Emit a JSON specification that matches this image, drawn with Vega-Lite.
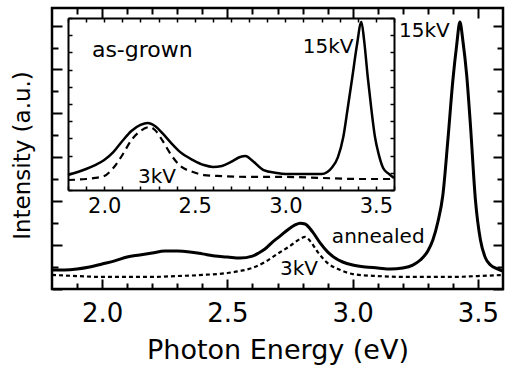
{
  "$schema": "https://vega.github.io/schema/vega-lite/v6.json",
  "width": 451,
  "height": 281,
  "autosize": {"type": "none"},
  "padding": {"left": 52, "top": 8, "right": 9, "bottom": 86},
  "background": "white",
  "config": {
    "font": "DejaVu Sans",
    "view": {"stroke": "black", "strokeWidth": 2.5},
    "axis": {
      "grid": false,
      "domain": false,
      "tickColor": "black",
      "labelColor": "black",
      "titleColor": "black",
      "titleFontWeight": "normal",
      "labelOverlap": false,
      "labelFlush": false,
      "labelBound": false
    },
    "text": {"font": "DejaVu Sans", "color": "black"}
  },
  "datasets": {
    "annealed15": [
      {"e": 1.80, "v": 0.87}, {"e": 1.85, "v": 0.87}, {"e": 1.90, "v": 0.91}, {"e": 1.95, "v": 1.00},
      {"e": 2.00, "v": 1.14}, {"e": 2.05, "v": 1.28}, {"e": 2.10, "v": 1.46}, {"e": 2.15, "v": 1.55},
      {"e": 2.20, "v": 1.64}, {"e": 2.25, "v": 1.73}, {"e": 2.30, "v": 1.73}, {"e": 2.35, "v": 1.69},
      {"e": 2.40, "v": 1.60}, {"e": 2.45, "v": 1.50}, {"e": 2.50, "v": 1.46}, {"e": 2.55, "v": 1.41},
      {"e": 2.60, "v": 1.50}, {"e": 2.625, "v": 1.64}, {"e": 2.65, "v": 1.82}, {"e": 2.68, "v": 2.14},
      {"e": 2.71, "v": 2.41}, {"e": 2.74, "v": 2.69}, {"e": 2.77, "v": 2.92}, {"e": 2.79, "v": 3.00},
      {"e": 2.81, "v": 2.96}, {"e": 2.84, "v": 2.60}, {"e": 2.87, "v": 2.10}, {"e": 2.90, "v": 1.69},
      {"e": 2.93, "v": 1.41}, {"e": 2.96, "v": 1.23}, {"e": 3.00, "v": 1.09}, {"e": 3.05, "v": 1.00},
      {"e": 3.10, "v": 0.96}, {"e": 3.15, "v": 0.91}, {"e": 3.20, "v": 0.96}, {"e": 3.24, "v": 1.09},
      {"e": 3.27, "v": 1.32}, {"e": 3.30, "v": 1.73}, {"e": 3.32, "v": 2.23}, {"e": 3.34, "v": 3.05},
      {"e": 3.36, "v": 4.28}, {"e": 3.38, "v": 6.79}, {"e": 3.40, "v": 9.52}, {"e": 3.415, "v": 11.1},
      {"e": 3.428, "v": 12.16}, {"e": 3.44, "v": 11.3}, {"e": 3.455, "v": 9.75}, {"e": 3.47, "v": 7.47},
      {"e": 3.49, "v": 4.05}, {"e": 3.51, "v": 2.23}, {"e": 3.53, "v": 1.41}, {"e": 3.55, "v": 1.09},
      {"e": 3.58, "v": 0.91}, {"e": 3.60, "v": 0.82}
    ],
    "annealed3": [
      {"e": 1.80, "v": 0.64}, {"e": 1.90, "v": 0.59}, {"e": 2.00, "v": 0.55}, {"e": 2.10, "v": 0.55},
      {"e": 2.20, "v": 0.55}, {"e": 2.30, "v": 0.59}, {"e": 2.40, "v": 0.64}, {"e": 2.50, "v": 0.73},
      {"e": 2.55, "v": 0.82}, {"e": 2.60, "v": 0.96}, {"e": 2.65, "v": 1.23}, {"e": 2.70, "v": 1.60},
      {"e": 2.75, "v": 1.96}, {"e": 2.79, "v": 2.28}, {"e": 2.81, "v": 2.37}, {"e": 2.83, "v": 2.19},
      {"e": 2.86, "v": 1.69}, {"e": 2.90, "v": 1.18}, {"e": 2.95, "v": 0.87}, {"e": 3.00, "v": 0.68},
      {"e": 3.10, "v": 0.59}, {"e": 3.20, "v": 0.55}, {"e": 3.30, "v": 0.55}, {"e": 3.40, "v": 0.55},
      {"e": 3.50, "v": 0.59}, {"e": 3.60, "v": 0.64}
    ],
    "grown15": [
      {"e": 1.80, "v": 0.87}, {"e": 1.90, "v": 1.22}, {"e": 1.95, "v": 1.45}, {"e": 2.00, "v": 1.74},
      {"e": 2.05, "v": 2.20}, {"e": 2.10, "v": 2.85}, {"e": 2.15, "v": 3.43}, {"e": 2.20, "v": 3.78},
      {"e": 2.24, "v": 3.90}, {"e": 2.28, "v": 3.72}, {"e": 2.33, "v": 3.20}, {"e": 2.37, "v": 2.73},
      {"e": 2.42, "v": 2.20}, {"e": 2.49, "v": 1.74}, {"e": 2.55, "v": 1.45}, {"e": 2.60, "v": 1.34},
      {"e": 2.65, "v": 1.40}, {"e": 2.70, "v": 1.63}, {"e": 2.75, "v": 1.92}, {"e": 2.78, "v": 1.98},
      {"e": 2.82, "v": 1.69}, {"e": 2.88, "v": 1.16}, {"e": 2.95, "v": 0.99}, {"e": 3.00, "v": 0.93},
      {"e": 3.10, "v": 0.93}, {"e": 3.20, "v": 0.93}, {"e": 3.26, "v": 1.34}, {"e": 3.29, "v": 1.90},
      {"e": 3.32, "v": 3.08}, {"e": 3.345, "v": 4.80}, {"e": 3.37, "v": 6.57}, {"e": 3.395, "v": 8.40},
      {"e": 3.42, "v": 9.77}, {"e": 3.435, "v": 8.70}, {"e": 3.455, "v": 6.57}, {"e": 3.475, "v": 4.70},
      {"e": 3.495, "v": 3.08}, {"e": 3.515, "v": 2.10}, {"e": 3.54, "v": 1.28}, {"e": 3.57, "v": 0.95},
      {"e": 3.60, "v": 0.70}
    ],
    "grown3": [
      {"e": 1.80, "v": 0.58}, {"e": 1.90, "v": 0.64}, {"e": 1.95, "v": 0.70}, {"e": 2.00, "v": 0.81},
      {"e": 2.05, "v": 1.28}, {"e": 2.10, "v": 2.03}, {"e": 2.15, "v": 2.90}, {"e": 2.20, "v": 3.43},
      {"e": 2.25, "v": 3.66}, {"e": 2.28, "v": 3.49}, {"e": 2.32, "v": 2.90}, {"e": 2.37, "v": 2.03},
      {"e": 2.42, "v": 1.40}, {"e": 2.49, "v": 1.05}, {"e": 2.55, "v": 0.87}, {"e": 2.65, "v": 0.81},
      {"e": 2.80, "v": 0.76}, {"e": 3.00, "v": 0.76}, {"e": 3.20, "v": 0.70}, {"e": 3.40, "v": 0.64},
      {"e": 3.60, "v": 0.64}
    ],
    "mainLabels": [
      {"e": 3.185, "v": 11.48, "t": "15kV"},
      {"e": 2.917, "v": 2.10, "t": "annealed"},
      {"e": 2.71, "v": 0.64, "t": "3kV"}
    ],
    "insetLabels": [
      {"e": 1.932, "v": 7.73, "t": "as-grown", "s": 22},
      {"e": 3.096, "v": 7.97, "t": "15kV", "s": 20},
      {"e": 2.186, "v": 0.41, "t": "3kV", "s": 20}
    ]
  },
  "resolve": {"scale": {"x": "independent", "y": "independent"}},
  "layer": [
    {
      "data": {"name": "annealed15"},
      "mark": {"type": "line", "color": "black", "strokeWidth": 3, "interpolate": "monotone"},
      "encoding": {
        "x": {
          "field": "e", "type": "quantitative",
          "scale": {"domain": [1.8, 3.6], "nice": false, "zero": false},
          "axis": {
            "orient": "bottom",
            "values": [2.0, 2.5, 3.0, 3.5],
            "format": ".1f",
            "tickSize": -10,
            "tickWidth": 2,
            "labelFontSize": 26,
            "labelPadding": 21,
            "title": "Photon Energy (eV)",
            "titleFontSize": 27,
            "titlePadding": 11
          }
        },
        "y": {
          "field": "v", "type": "quantitative",
          "scale": {"domain": [0, 12.8], "nice": false, "zero": false},
          "axis": {
            "orient": "left",
            "values": [0, 2, 4, 6, 8, 10, 12],
            "tickSize": -10,
            "tickWidth": 2,
            "labels": false,
            "title": "Intensity (a.u.)",
            "titleFontSize": 23,
            "titlePadding": 17,
            "titleY": 147
          }
        }
      }
    },
    {
      "data": {"name": "annealed3"},
      "mark": {"type": "line", "color": "black", "strokeWidth": 2.2, "strokeDash": [4, 3], "interpolate": "monotone"},
      "encoding": {
        "x": {
          "field": "e", "type": "quantitative",
          "scale": {"domain": [1.8, 3.6], "nice": false, "zero": false},
          "axis": {
            "orient": "bottom",
            "values": [1.9, 2.1, 2.2, 2.3, 2.4, 2.6, 2.7, 2.8, 2.9, 3.1, 3.2, 3.3, 3.4],
            "tickSize": -6,
            "tickWidth": 2,
            "labels": false,
            "title": null
          }
        },
        "y": {
          "field": "v", "type": "quantitative",
          "scale": {"domain": [0, 12.8], "nice": false, "zero": false},
          "axis": {
            "orient": "left",
            "values": [1, 3, 5, 7, 9, 11],
            "tickSize": -6,
            "tickWidth": 2,
            "labels": false,
            "title": null
          }
        }
      }
    },
    {
      "data": {"name": "mainLabels"},
      "transform": [{"filter": "datum.t == '15kV'"}],
      "mark": {"type": "text", "align": "left", "baseline": "alphabetic", "fontSize": 20},
      "encoding": {
        "x": {
          "field": "e", "type": "quantitative",
          "scale": {"domain": [1.8, 3.6], "nice": false, "zero": false},
          "axis": {
            "orient": "top",
            "values": [2.0, 2.5, 3.0, 3.5],
            "tickSize": -10,
            "tickWidth": 2,
            "labels": false,
            "title": null
          }
        },
        "y": {
          "field": "v", "type": "quantitative",
          "scale": {"domain": [0, 12.8], "nice": false, "zero": false},
          "axis": {
            "orient": "right",
            "values": [0, 2, 4, 6, 8, 10, 12],
            "tickSize": -10,
            "tickWidth": 2,
            "labels": false,
            "title": null
          }
        },
        "text": {"field": "t"}
      }
    },
    {
      "data": {"name": "mainLabels"},
      "transform": [{"filter": "datum.t != '15kV'"}],
      "mark": {"type": "text", "align": "left", "baseline": "alphabetic", "fontSize": 20},
      "encoding": {
        "x": {
          "field": "e", "type": "quantitative",
          "scale": {"domain": [1.8, 3.6], "nice": false, "zero": false},
          "axis": {
            "orient": "top",
            "values": [1.9, 2.1, 2.2, 2.3, 2.4, 2.6, 2.7, 2.8, 2.9, 3.1, 3.2, 3.3, 3.4],
            "tickSize": -6,
            "tickWidth": 2,
            "labels": false,
            "title": null
          }
        },
        "y": {
          "field": "v", "type": "quantitative",
          "scale": {"domain": [0, 12.8], "nice": false, "zero": false},
          "axis": {
            "orient": "right",
            "values": [1, 3, 5, 7, 9, 11],
            "tickSize": -6,
            "tickWidth": 2,
            "labels": false,
            "title": null
          }
        },
        "text": {"field": "t"}
      }
    },
    {
      "encoding": {
        "x": {
          "field": "e", "type": "quantitative",
          "scale": {"domain": [1.8, 3.6], "range": [16, 342], "nice": false, "zero": false},
          "axis": {
            "orient": "bottom",
            "offset": -99,
            "domain": true,
            "domainColor": "black",
            "domainWidth": 2,
            "values": [1.8, 1.9, 2.0, 2.1, 2.2, 2.3, 2.4, 2.5, 2.6, 2.7, 2.8, 2.9, 3.0, 3.1, 3.2, 3.3, 3.4, 3.5, 3.6],
            "tickSize": -4,
            "tickWidth": 1.5,
            "labelExpr": "abs(datum.value*2 - round(datum.value*2)) < 0.001 ? format(datum.value, '.1f') : ''",
            "labelFontSize": 21,
            "labelPadding": 9,
            "title": null
          }
        },
        "y": {
          "field": "v", "type": "quantitative",
          "scale": {"domain": [0, 10], "range": [182, 10], "nice": false, "zero": false},
          "axis": {
            "orient": "left",
            "offset": -16,
            "domain": true,
            "domainColor": "black",
            "domainWidth": 2,
            "values": [0, 1, 2, 3, 4, 5, 6, 7, 8, 9, 10],
            "tickSize": -4,
            "tickWidth": 1.5,
            "labels": false,
            "title": null
          }
        }
      },
      "layer": [
        {"data": {"name": "grown15"}, "mark": {"type": "line", "color": "black", "strokeWidth": 2.5, "interpolate": "monotone"}},
        {"data": {"name": "grown3"}, "mark": {"type": "line", "color": "black", "strokeWidth": 2.2, "strokeDash": [7, 5], "interpolate": "monotone"}}
      ]
    },
    {
      "data": {"name": "insetLabels"},
      "mark": {"type": "text", "align": "left", "baseline": "alphabetic"},
      "encoding": {
        "x": {
          "field": "e", "type": "quantitative",
          "scale": {"domain": [1.8, 3.6], "range": [16, 342], "nice": false, "zero": false},
          "axis": {
            "orient": "top",
            "offset": -10,
            "domain": true,
            "domainColor": "black",
            "domainWidth": 2,
            "values": [1.8, 1.9, 2.0, 2.1, 2.2, 2.3, 2.4, 2.5, 2.6, 2.7, 2.8, 2.9, 3.0, 3.1, 3.2, 3.3, 3.4, 3.5, 3.6],
            "tickSize": -4,
            "tickWidth": 1.5,
            "labels": false,
            "title": null
          }
        },
        "y": {
          "field": "v", "type": "quantitative",
          "scale": {"domain": [0, 10], "range": [182, 10], "nice": false, "zero": false},
          "axis": {
            "orient": "right",
            "offset": -109,
            "domain": true,
            "domainColor": "black",
            "domainWidth": 2,
            "values": [0, 1, 2, 3, 4, 5, 6, 7, 8, 9, 10],
            "tickSize": -4,
            "tickWidth": 1.5,
            "labels": false,
            "title": null
          }
        },
        "text": {"field": "t"},
        "size": {"field": "s", "type": "quantitative", "scale": null}
      }
    }
  ]
}
